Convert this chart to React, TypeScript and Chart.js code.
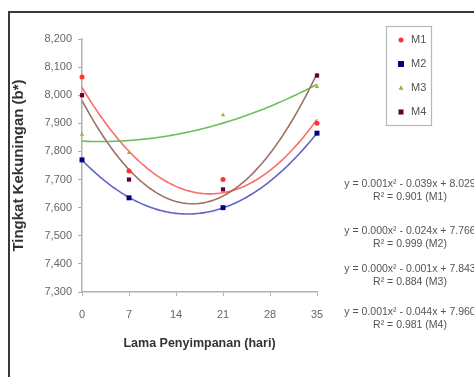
import { useEffect, useRef } from 'react';
import { Chart, registerables } from 'chart.js';

Chart.register(...registerables);

const days = [0, 7, 21, 35];
const seriesNames = ['M1', 'M2', 'M3', 'M4'];
const m1 = [8.065, 7.73, 7.70, 7.90];
const m2 = [7.77, 7.635, 7.60, 7.865];
const m3 = [7.86, 7.795, 7.93, 8.03];
const m4 = [8.0, 7.70, 7.665, 8.07];
const xTickValues = [0, 7, 14, 21, 28, 35];
const yTickValues = [7.3, 7.4, 7.5, 7.6, 7.7, 7.8, 7.9, 8.0, 8.1, 8.2];
const equations = [
  'y = 0.001x² - 0.039x + 8.029',
  'y = 0.000x² - 0.024x + 7.766',
  'y = 0.000x² - 0.001x + 7.843',
  'y = 0.001x² - 0.044x + 7.960',
];
const rSquared = ['R² = 0.901 (M1)', 'R² = 0.999 (M2)', 'R² = 0.884 (M3)', 'R² = 0.981 (M4)'];

const markerColors = ['#ff3333', '#000080', '#99b333', '#660033'];
const lineColors = ['#ff6a6a', '#6464c8', '#6cbf5a', '#9c7263'];
const pointStyles = ['circle', 'rect', 'triangle', 'rect'];
const pointRadii = [2.5, 3.5, 2.5, 3];
const allSeries = [m1, m2, m3, m4];

const FONT = "'Liberation Sans', Arial, sans-serif";

function quadFit(xs: number[], ys: number[]) {
  // least squares y = a + b x + c x^2
  let s0 = 0, s1 = 0, s2 = 0, s3 = 0, s4 = 0, t0 = 0, t1 = 0, t2 = 0;
  for (let i = 0; i < xs.length; i++) {
    const x = xs[i], y = ys[i];
    s0 += 1; s1 += x; s2 += x * x; s3 += x * x * x; s4 += x * x * x * x;
    t0 += y; t1 += x * y; t2 += x * x * y;
  }
  const M = [
    [s0, s1, s2, t0],
    [s1, s2, s3, t1],
    [s2, s3, s4, t2],
  ];
  for (let c = 0; c < 3; c++) {
    let p = c;
    for (let r = c + 1; r < 3; r++) if (Math.abs(M[r][c]) > Math.abs(M[p][c])) p = r;
    [M[c], M[p]] = [M[p], M[c]];
    for (let r = 0; r < 3; r++) {
      if (r === c) continue;
      const f = M[r][c] / M[c][c];
      for (let k = c; k < 4; k++) M[r][k] -= f * M[c][k];
    }
  }
  return [M[0][3] / M[0][0], M[1][3] / M[1][1], M[2][3] / M[2][2]];
}

function drawMarker(ctx: CanvasRenderingContext2D, style: string, x: number, y: number, r: number, color: string) {
  ctx.save();
  ctx.fillStyle = color;
  ctx.beginPath();
  if (style === 'circle') {
    ctx.arc(x, y, r, 0, Math.PI * 2);
  } else if (style === 'rect') {
    ctx.rect(x - r * 0.85, y - r * 0.85, r * 1.7, r * 1.7);
  } else {
    ctx.moveTo(x, y - r * 1.1);
    ctx.lineTo(x + r, y + r * 0.7);
    ctx.lineTo(x - r, y + r * 0.7);
    ctx.closePath();
  }
  ctx.fill();
  ctx.restore();
}

const trendPlugin = {
  id: 'trend',
  beforeDatasetsDraw(chart: any) {
    const ctx = chart.ctx as CanvasRenderingContext2D;
    const xs = chart.scales.x, ys = chart.scales.y;
    allSeries.forEach((vals, i) => {
      const [a, b, c] = quadFit(days, vals);
      ctx.save();
      ctx.strokeStyle = lineColors[i];
      ctx.lineWidth = 1.6;
      ctx.beginPath();
      for (let x = days[0]; x <= days[days.length - 1] + 1e-9; x += 0.25) {
        const px = xs.getPixelForValue(x);
        const py = ys.getPixelForValue(a + b * x + c * x * x);
        if (x === days[0]) ctx.moveTo(px, py); else ctx.lineTo(px, py);
      }
      ctx.stroke();
      ctx.restore();
    });
  },
};

const decorPlugin = {
  id: 'decor',
  afterDraw(chart: any) {
    const ctx = chart.ctx as CanvasRenderingContext2D;
    ctx.save();
    // frame
    ctx.strokeStyle = '#3a3a3a';
    ctx.lineWidth = 2;
    ctx.beginPath();
    ctx.moveTo(9, 377);
    ctx.lineTo(9, 12);
    ctx.lineTo(474, 12);
    ctx.stroke();
    // legend box
    ctx.strokeStyle = '#b8b8b8';
    ctx.lineWidth = 1.2;
    ctx.strokeRect(386.5, 26.5, 45, 99);
    ctx.font = `11px ${FONT}`;
    ctx.textBaseline = 'middle';
    ctx.textAlign = 'left';
    seriesNames.forEach((n, i) => {
      const y = 40 + i * 24;
      drawMarker(ctx, pointStyles[i], 401, y, pointRadii[i], markerColors[i]);
      ctx.fillStyle = '#555';
      ctx.fillText(n, 411, y);
    });
    // equations
    ctx.font = `10.5px ${FONT}`;
    ctx.fillStyle = '#555';
    ctx.textAlign = 'center';
    const eqY = [184, 231, 269, 312];
    equations.forEach((eq, i) => {
      ctx.fillText(eq, 410, eqY[i]);
      ctx.fillText(rSquared[i], 410, eqY[i] + 13);
    });
    ctx.restore();
  },
};

export default function App() {
  const ref = useRef<HTMLCanvasElement>(null);
  useEffect(() => {
    document.body.style.margin = '0';
    const canvas = ref.current!;
    const chart = new Chart(canvas, {
      type: 'scatter',
      data: {
        datasets: allSeries.map((vals, i) => ({
          label: seriesNames[i],
          data: days.map((d, j) => ({ x: d, y: vals[j] })),
          showLine: false,
          clip: false,
          pointStyle: pointStyles[i] as any,
          pointRadius: pointRadii[i],
          backgroundColor: markerColors[i],
          borderColor: markerColors[i],
          borderWidth: 0,
        })),
      },
      options: {
        animation: false,
        responsive: false,
        layout: { padding: { top: 39, right: 157, left: 0, bottom: 0 } },
        plugins: { legend: { display: false }, tooltip: { enabled: false } },
        scales: {
          x: {
            type: 'linear',
            min: 0,
            max: 35,
            afterBuildTicks: (s: any) => { s.ticks = xTickValues.map((v) => ({ value: v })); },
            afterFit: (s: any) => { s.height = 85; },
            grid: { display: true, drawOnChartArea: false, drawTicks: true, tickLength: 4, color: '#b0b0b0' },
            border: { display: true, color: '#b0b0b0', width: 1.5 },
            ticks: { color: '#666', font: { family: FONT, size: 11 }, padding: 12, callback: (v: any) => String(v) },
            title: { display: true, text: 'Lama Penyimpanan (hari)', color: '#333', font: { family: FONT, size: 12.5, weight: 'bold' }, padding: { top: 0, bottom: 26 } },
          },
          y: {
            type: 'linear',
            min: 7.3,
            max: 8.2,
            afterBuildTicks: (s: any) => { s.ticks = yTickValues.map((v) => ({ value: v })); },
            afterFit: (s: any) => { s.width = 82; },
            grid: { display: true, drawOnChartArea: false, drawTicks: true, tickLength: 4, color: '#b0b0b0' },
            border: { display: true, color: '#b0b0b0', width: 1.5 },
            ticks: { color: '#666', font: { family: FONT, size: 11 }, padding: 6, callback: (v: any) => Number(v).toFixed(3).replace('.', ',') },
            title: { display: true, text: 'Tingkat Kekuningan (b*)', color: '#333', font: { family: FONT, size: 15, weight: 'bold' }, padding: { top: 10, bottom: 0 } },
          },
        },
      },
      plugins: [trendPlugin, decorPlugin],
    });
    return () => chart.destroy();
  }, []);
  return <canvas ref={ref} width={474} height={377} style={{ display: 'block' }} />;
}
